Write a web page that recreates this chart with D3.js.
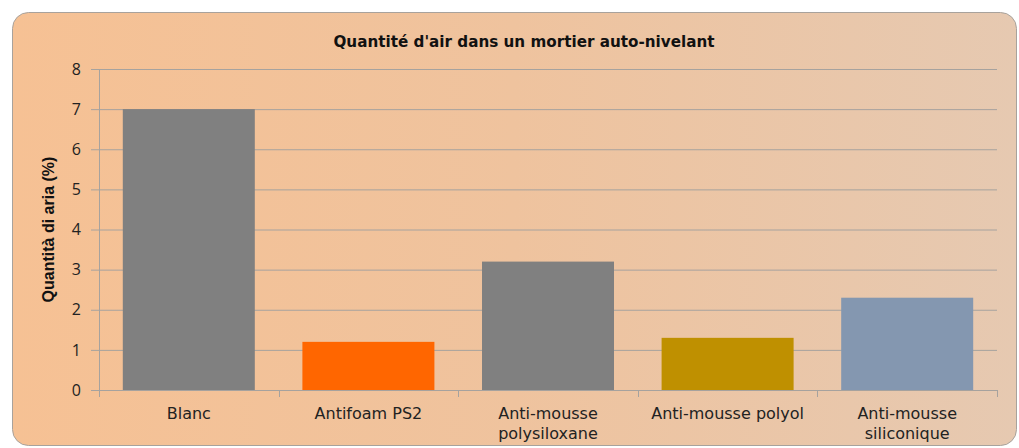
<!DOCTYPE html>
<html>
<head>
<meta charset="utf-8">
<script src="https://cdn.jsdelivr.net/npm/d3@7"></script>
<style>
  body { margin: 0; background: #fff; }
  text { font-family: "Open Sans", "DejaVu Sans", sans-serif; }
</style>
</head>
<body>
<div id="chart"></div>
<script>
// chart data
const categories = ["Blanc", "Antifoam PS2", "Anti-mousse polysiloxane", "Anti-mousse polyol", "Anti-mousse siliconique"];
const labelLines = [["Blanc"], ["Antifoam PS2"], ["Anti-mousse", "polysiloxane"], ["Anti-mousse polyol"], ["Anti-mousse", "siliconique"]];
const values = [7, 1.2, 3.2, 1.3, 2.3];
const barColors = ["#808080", "#FF6600", "#808080", "#BF9000", "#8497B0"];
const yTicks = [0, 1, 2, 3, 4, 5, 6, 7, 8];

const W = 1019, H = 448;
const plot = { left: 99, right: 997, top: 69, bottom: 390 };

const svg = d3.select("#chart")
    .append("svg")
    .attr("width", W)
    .attr("height", H);

const defs = svg.append("defs");
const grad = defs.append("linearGradient")
    .attr("id", "bg")
    .attr("x1", "0%").attr("x2", "100%")
    .attr("y1", "0%").attr("y2", "0%");
grad.append("stop").attr("offset", "0%").attr("stop-color", "#F6C194");
grad.append("stop").attr("offset", "50%").attr("stop-color", "#EFC39E");
grad.append("stop").attr("offset", "100%").attr("stop-color", "#E6C9B1");

// panel
svg.append("rect")
    .attr("x", 12.5)
    .attr("y", 12.5)
    .attr("width", 1004)
    .attr("height", 433)
    .attr("rx", 16)
    .attr("fill", "url(#bg)")
    .attr("stroke", "#A8A29C")
    .attr("stroke-width", 1);

const x = d3.scaleBand()
    .domain(categories)
    .range([plot.left, plot.right])
    .paddingInner(0.265)
    .paddingOuter(0.1325);

const y = d3.scaleLinear()
    .domain([0, 8])
    .range([plot.bottom, plot.top]);

// gridlines
svg.append("g")
    .attr("class", "grid")
    .attr("transform", `translate(${plot.left},0)`)
    .call(d3.axisLeft(y)
        .tickValues(yTicks)
        .tickSize(-(plot.right - plot.left))
        .tickFormat("")
        .tickSizeOuter(0))
    .call(g => g.select(".domain").remove())
    .selectAll("line")
    .attr("stroke", "#A6A29E")
    .attr("stroke-width", 1);

// bars
svg.append("g")
    .selectAll("rect")
    .data(values)
    .enter()
    .append("rect")
    .attr("x", (d, i) => x(categories[i]))
    .attr("y", d => y(d))
    .attr("width", x.bandwidth())
    .attr("height", d => y(0) - y(d))
    .attr("fill", (d, i) => barColors[i]);

// y axis
const yAxis = svg.append("g")
    .attr("transform", `translate(${plot.left},0)`)
    .call(d3.axisLeft(y).tickValues(yTicks).tickSize(8).tickSizeOuter(0).tickPadding(10));
yAxis.select(".domain").attr("stroke", "#A6A29E");
yAxis.selectAll(".tick line").attr("stroke", "#A6A29E");
yAxis.selectAll("text")
    .style("font-size", "16px")
    .attr("fill", "#222");

// x axis: ticks at category boundaries
const step = (plot.right - plot.left) / categories.length;
const boundaries = d3.range(categories.length + 1);
svg.append("line")
    .attr("x1", plot.left).attr("x2", plot.right)
    .attr("y1", y(0) + 0.5).attr("y2", y(0) + 0.5)
    .attr("stroke", "#A6A29E");
svg.append("g")
    .selectAll("line")
    .data(boundaries)
    .enter()
    .append("line")
    .attr("x1", d => Math.round(plot.left + d * step) + 0.5)
    .attr("x2", d => Math.round(plot.left + d * step) + 0.5)
    .attr("y1", y(0))
    .attr("y2", y(0) + 7)
    .attr("stroke", "#A6A29E");

// category labels
const labels = svg.append("g")
    .selectAll("text")
    .data(categories)
    .enter()
    .append("text")
    .attr("x", d => x(d) + x.bandwidth() / 2)
    .attr("y", 419)
    .attr("text-anchor", "middle")
    .style("font-family", "'DejaVu Sans', sans-serif")
    .style("font-size", "16px")
    .attr("fill", "#222");
labels.each(function (d, i) {
    d3.select(this).selectAll("tspan")
        .data(labelLines[i])
        .enter()
        .append("tspan")
        .attr("x", x(d) + x.bandwidth() / 2)
        .attr("dy", (t, j) => j === 0 ? 0 : 20)
        .text(t => t);
});

// title
svg.append("text")
    .attr("x", 524)
    .attr("y", 47)
    .attr("text-anchor", "middle")
    .style("font-family", "'DejaVu Sans', sans-serif")
    .style("font-size", "15.2px")
    .style("font-weight", "bold")
    .attr("fill", "#111")
    .text("Quantité d'air dans un mortier auto-nivelant");

// y axis label
svg.append("text")
    .attr("transform", `translate(54,${(plot.top + plot.bottom) / 2}) rotate(-90)`)
    .attr("text-anchor", "middle")
    .style("font-family", "'Liberation Sans Narrow', 'Liberation Sans', sans-serif")
    .style("font-size", "16px")
    .style("font-weight", "bold")
    .attr("fill", "#111")
    .text("Quantità di aria (%)");
</script>
</body>
</html>
